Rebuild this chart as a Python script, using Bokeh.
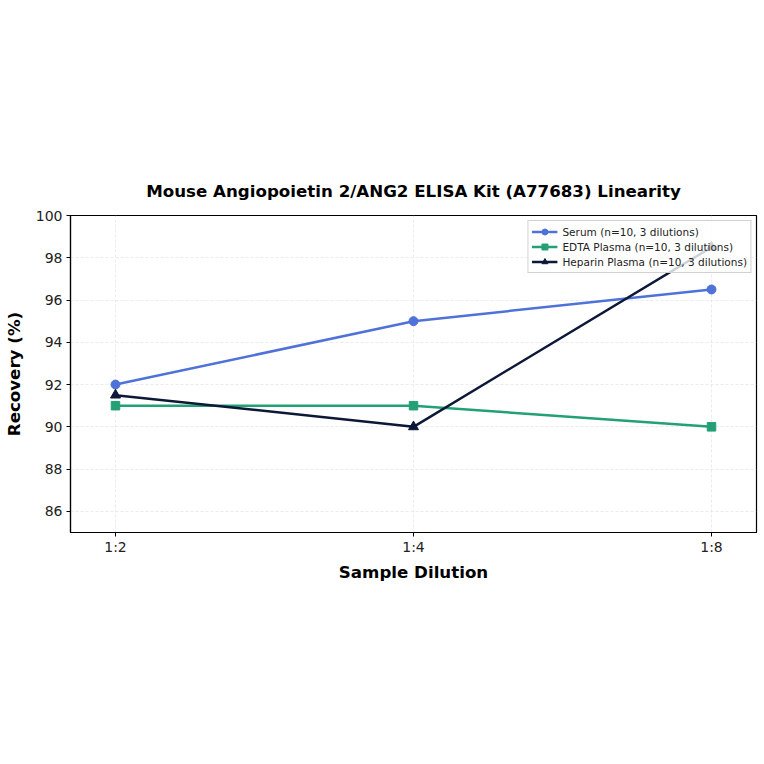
from bokeh.plotting import figure
from bokeh.models import Range1d, FixedTicker, Legend, LegendItem
from bokeh.embed import file_html
from bokeh.resources import INLINE

dilutions = ["1:2", "1:4", "1:8"]
serum = [92.0, 95.0, 96.5]
edta = [91.0, 91.0, 90.0]
heparin = [91.5, 90.0, 98.5]
y_ticks = [86, 88, 90, 92, 94, 96, 98, 100]

xs = list(range(len(dilutions)))

p = figure(width=758, height=758, output_backend="svg", toolbar_location=None,
           x_range=Range1d(-0.151, 2.151), y_range=Range1d(85, 100),
           min_border_left=70, min_border_right=2, min_border_top=215, min_border_bottom=226)

p.title.text = "Mouse Angiopoietin 2/ANG2 ELISA Kit (A77683) Linearity"
p.title.align = "center"
p.title.text_font = "DejaVu Sans"
p.title.text_font_size = "12.5pt"
p.title.text_font_style = "bold"
p.title.text_color = "black"
p.title.standoff = 29

p.outline_line_color = "black"
p.outline_line_width = 1.2
p.background_fill_color = "white"

p.xaxis.ticker = FixedTicker(ticks=xs)
p.xaxis.major_label_overrides = {i: d for i, d in zip(xs, dilutions)}
p.yaxis.ticker = FixedTicker(ticks=y_ticks)
for ax in (p.xaxis, p.yaxis):
    ax.axis_line_color = "black"
    ax.axis_line_width = 1.2
    ax.major_tick_line_color = "black"
    ax.minor_tick_line_color = None
    ax.major_tick_out = 4
    ax.major_tick_in = 0
    ax.major_label_text_font = "DejaVu Sans"
    ax.major_label_text_font_size = "10.5pt"
    ax.major_label_text_color = "#222222"
    ax.major_label_standoff = 4
    ax.axis_label_text_font = "DejaVu Sans"
    ax.axis_label_text_font_size = "12.5pt"
    ax.axis_label_text_font_style = "bold"
    ax.axis_label_text_color = "black"
p.xaxis.major_label_standoff = 2
p.xaxis.axis_label = "Sample Dilution"
p.yaxis.axis_label = "Recovery (%)"
p.xaxis.axis_label_standoff = 5
p.yaxis.axis_label_standoff = 9

p.xgrid.ticker = FixedTicker(ticks=xs)
p.ygrid.ticker = FixedTicker(ticks=y_ticks)
for g in (p.xgrid, p.ygrid):
    g.grid_line_color = "#dddddd"
    g.grid_line_alpha = 0.7
    g.grid_line_dash = "3 2"
    g.grid_line_width = 0.8

c_serum = "#4f72d9"
c_edta = "#23a075"
c_hep = "#0d1838"

l1 = p.line(xs, serum, line_color=c_serum, line_width=2.5)
m1 = p.scatter(xs, serum, marker="circle", size=9, fill_color=c_serum, line_color=c_serum)
l2 = p.line(xs, edta, line_color=c_edta, line_width=2.5)
m2 = p.scatter(xs, edta, marker="square", size=8.5, fill_color=c_edta, line_color=c_edta)
l3 = p.line(xs, heparin, line_color=c_hep, line_width=2.5)
m3 = p.scatter(xs, heparin, marker="triangle", size=10, fill_color=c_hep, line_color=c_hep)

legend = Legend(items=[
    LegendItem(label="Serum (n=10, 3 dilutions)", renderers=[l1, m1]),
    LegendItem(label="EDTA Plasma (n=10, 3 dilutions)", renderers=[l2, m2]),
    LegendItem(label="Heparin Plasma (n=10, 3 dilutions)", renderers=[l3, m3]),
], location="top_right")
legend.label_text_font = "DejaVu Sans"
legend.label_text_font_size = "7.9pt"
legend.label_text_color = "#222222"
legend.label_height = 15
legend.glyph_height = 15
legend.glyph_width = 26
legend.spacing = 0
legend.padding = 3
legend.margin = 5
legend.border_line_color = "#cccccc"
legend.border_line_alpha = 0.9
legend.background_fill_alpha = 0.8
p.add_layout(legend)

open("out.html", "w").write(file_html(p, INLINE))
